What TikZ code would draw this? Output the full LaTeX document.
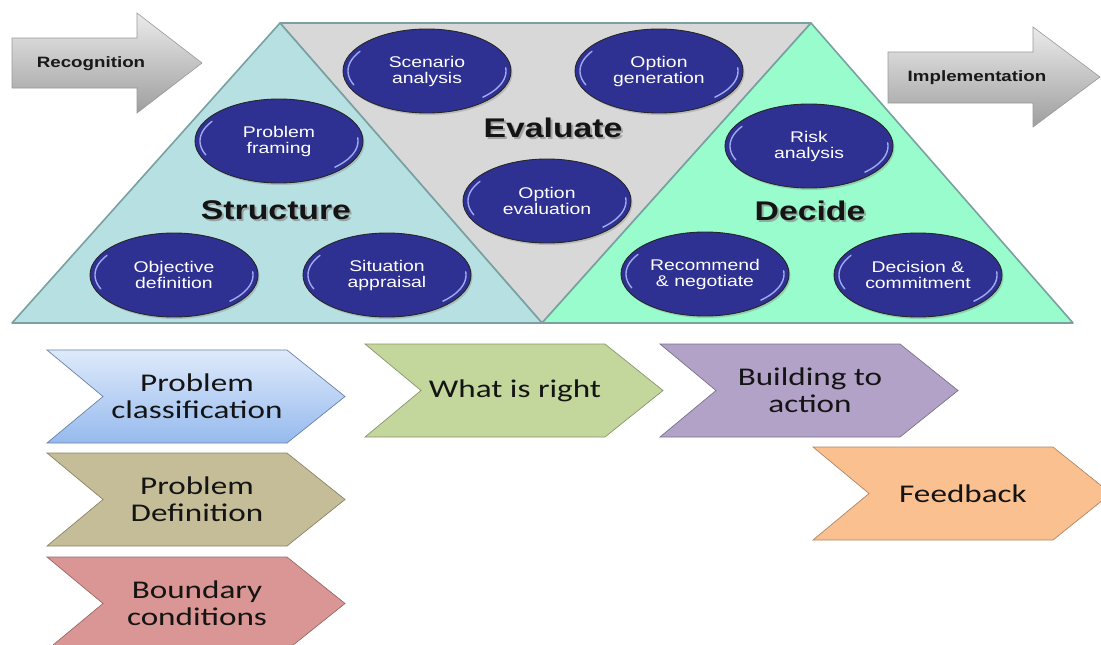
\documentclass[tikz,border=0pt]{standalone}
\usepackage{fontspec}
\usetikzlibrary{shapes.geometric,shadows,calc}
\newfontfamily\arialS[FakeStretch=1.25]{Liberation Sans}
\newfontfamily\calS[FakeStretch=1.3]{Carlito}
\definecolor{triTeal}{RGB}{183,224,226}
\definecolor{triGray}{RGB}{216,216,216}
\definecolor{triGreen}{RGB}{152,252,204}
\definecolor{triLine}{RGB}{122,160,160}
\definecolor{ellBlue}{RGB}{46,49,146}
\definecolor{ellHl}{RGB}{160,170,240}
\definecolor{pcTop}{RGB}{222,234,251}
\definecolor{pcBot}{RGB}{150,186,238}
\definecolor{pdCol}{RGB}{196,189,151}
\definecolor{bcCol}{RGB}{217,150,148}
\definecolor{wrCol}{RGB}{195,214,155}
\definecolor{baCol}{RGB}{178,162,199}
\definecolor{fbCol}{RGB}{250,192,144}
\tikzset{
  tri/.style={draw=triLine, line width=1.6, line join=round},
  ell/.style={ellipse, draw=black!85, line width=0.9, fill=ellBlue,
    minimum width=168, minimum height=84, inner sep=0, text=white,
    font=\arialS\fontsize{15.5}{16}\selectfont, align=center,
    drop shadow={opacity=0.35, shadow xshift=1.5pt, shadow yshift=-2pt}},
  hl/.style={draw=ellHl, line width=1.4, line cap=round},
  bigl/.style={font=\arialS\bfseries\fontsize{27}{30}\selectfont, text=black!92},
  bigsh/.style={font=\arialS\bfseries\fontsize{27}{30}\selectfont, text=black!45, opacity=0.7},
  garrow/.style={draw=black!40, line width=0.6, top color=black!8, bottom color=black!38},
  gtext/.style={font=\arialS\bfseries\fontsize{15}{16}\selectfont, text=black!90},
  chev/.style={line width=0.7},
  chtext/.style={font=\calS\fontsize{25.5}{27}\selectfont, align=center, text=black!92}
}
\newcommand\myell[4]{%
  \node[ell] (#1) at (#2,#3) {#4};
  \draw[hl, shift={(#1.center)}] plot[domain=158:212, samples=20] ({79*cos(\x)},{37*sin(\x)});
  \draw[hl, shift={(#1.center)}] plot[domain=-5:45, samples=20] ({79*cos(\x)},{37*sin(\x)});
}
\newcommand\chevpath[2]{(#1,#2) -- ++(240,0) -- ++(58,46.5) -- ++(-58,46.5) -- ++(-240,0) -- ++(56,-46.5) -- cycle}
\begin{document}
\begin{tikzpicture}[x=1pt,y=-1pt]
\useasboundingbox (0,0) rectangle (1101,645);
\clip (0,0) rectangle (1101,645);
\fill[white] (0,0) rectangle (1101,645);

% triangles
\filldraw[tri, fill=triGray] (280,23) -- (811,23) -- (542,323) -- cycle;
\filldraw[tri, fill=triTeal] (12,323) -- (280,23) -- (542,323) -- cycle;
\filldraw[tri, fill=triGreen] (542,323) -- (811,23) -- (1073,323) -- cycle;

% ellipses
\myell{scen}{427}{71}{Scenario\\analysis}
\myell{optgen}{659}{71}{Option\\generation}
\myell{probfr}{279}{141}{Problem\\framing}
\myell{opteval}{547}{201}{Option\\evaluation}
\myell{risk}{809}{146}{Risk\\analysis}
\myell{objdef}{174}{275}{Objective\\definition}
\myell{sitapp}{387}{275}{Situation\\appraisal}
\myell{recneg}{705}{274}{Recommend\\\& negotiate}
\myell{deccom}{918}{275}{Decision \&\\commitment}

% big labels
\node[bigsh] at (278,212) {Structure};
\node[bigl] (structure) at (276,210) {Structure};
\node[bigsh] at (555,130) {Evaluate};
\node[bigl] (evaluate) at (553,128) {Evaluate};
\node[bigsh] at (812,213) {Decide};
\node[bigl] (decide) at (810,211) {Decide};

% gray arrows
\path[garrow] (12,38) -- (137,38) -- (137,13) -- (202,63) -- (137,113) -- (137,88) -- (12,88) -- cycle;
\node[gtext] (recog) at (91,64) {Recognition};
\path[garrow] (888,52) -- (1033,52) -- (1033,27) -- (1100,77) -- (1033,127) -- (1033,103) -- (888,103) -- cycle;
\node[gtext] (impl) at (977,78) {Implementation};

% chevrons
\path[chev, draw=pcBot!70!black, top color=pcTop, bottom color=pcBot] \chevpath{47}{350};
\node[chtext] (pclass) at (197,396.5) {Problem\\classification};
\filldraw[chev, draw=pdCol!70!black, fill=pdCol] \chevpath{47}{453};
\node[chtext] (pdef) at (197,499.5) {Problem\\Definition};
\filldraw[chev, draw=bcCol!70!black, fill=bcCol] \chevpath{47}{557};
\node[chtext] (bcond) at (197,603.5) {Boundary\\conditions};
\filldraw[chev, draw=wrCol!70!black, fill=wrCol] \chevpath{365}{344};
\node[chtext] (wright) at (515,390.5) {What is right};
\filldraw[chev, draw=baCol!70!black, fill=baCol] \chevpath{660}{344};
\node[chtext] (build) at (810,390.5) {Building to\\action};
\filldraw[chev, draw=fbCol!70!black, fill=fbCol] \chevpath{813}{447};
\node[chtext] (feed) at (963,493.5) {Feedback};
\end{tikzpicture}
\end{document}
